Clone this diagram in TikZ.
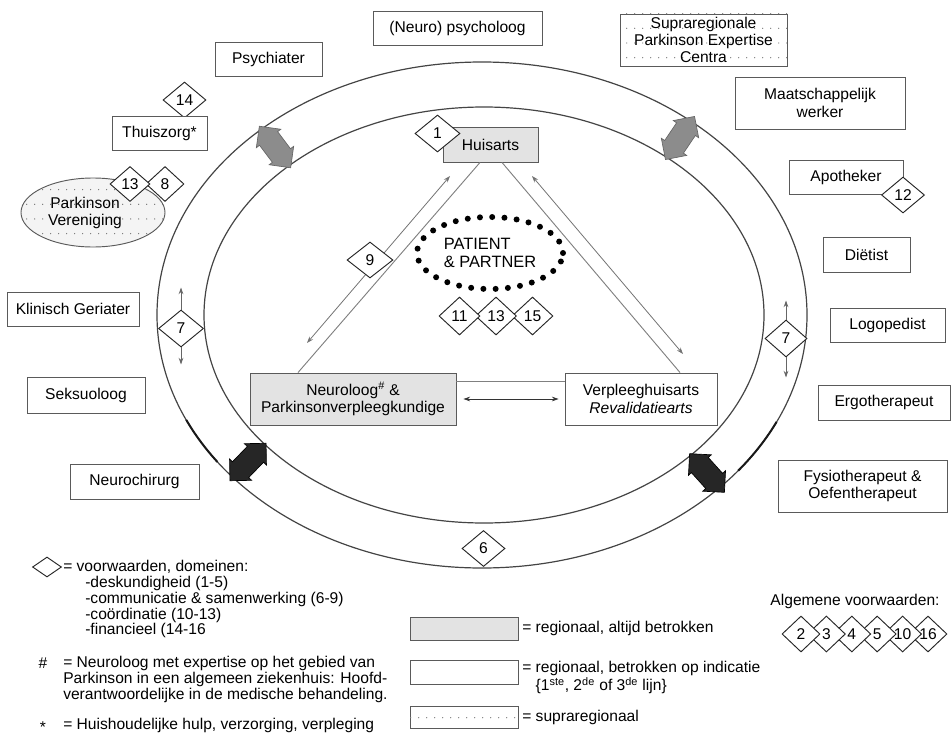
\documentclass[tikz,border=0pt]{standalone}
\usepackage{fontspec}
\setmainfont{Liberation Sans}
\usetikzlibrary{shapes.geometric,shapes.arrows,patterns,arrows.meta,calc}
\pgfdeclarepatternformonly{sparsedots}{\pgfpoint{-1pt}{-1pt}}{\pgfpoint{10pt}{12pt}}{\pgfpoint{6pt}{11pt}}{\pgfpathcircle{\pgfpoint{2pt}{2pt}}{0.5pt}\pgfusepath{fill}}
\definecolor{lnc}{HTML}{444444}
\definecolor{bxc}{HTML}{5A5A5A}
\definecolor{gfill}{HTML}{E3E3E3}
\definecolor{garr}{HTML}{8C8C8C}
\begin{document}
\begin{tikzpicture}[x=0.75pt,y=-0.75pt,
  box/.style={draw=bxc, line width=0.7pt, fill=white, inner sep=0pt, align=center, font=\fontsize{11.7}{13}\selectfont},
  gbox/.style={box, fill=gfill},
  dbox/.style={box, postaction={pattern=sparsedots, pattern color=black!50}},
  dia/.style={diamond, draw=black!85, line width=0.7pt, fill=white, inner sep=0pt, minimum width=43*0.75pt, minimum height=36*0.75pt, font=\fontsize{11.7}{13}\selectfont},
  ell/.style={draw=lnc, line width=0.9pt},
  conn/.style={draw=black!50, line width=0.7pt},
  tarr/.style={draw=black!55, line width=0.6pt, {Stealth[length=5pt,width=3.5pt]}-{Stealth[length=5pt,width=3.5pt]}},
  vart/.style={draw=black!60, line width=0.6pt, -{Stealth[length=5pt,width=3.5pt]}},
  fat/.style={double arrow, inner xsep=0pt, inner ysep=11*0.75pt, minimum height=52*0.75pt, double arrow head extend=4*0.75pt, line width=0.5pt},
  leg/.style={inner sep=0pt, font=\fontsize{11.7}{11.8}\selectfont, align=left},
]
\useasboundingbox (0,0) rectangle (952,735);
% ellipses
\draw[ell] (482,315) ellipse [x radius=325, y radius=253];
\draw[ell] (484,315) ellipse [x radius=280, y radius=208];
\draw[draw=black!90, line width=1.5pt] plot[domain=144.5:155.5, samples=20] ({482+325*cos(\x)},{315+253*sin(\x)});
\draw[draw=black!90, line width=1.5pt] plot[domain=25:38, samples=20] ({482+325*cos(\x)},{315+253*sin(\x)});
% fat arrows
\node[fat, fill=garr, draw=black!60, rotate=127] (ga1) at (275,147) {};
\node[fat, fill=garr, draw=black!60, rotate=56] (ga2) at (680,138) {};
\node[fat, fill=black!85, draw=black, rotate=46] (ba1) at (248,462) {};
\node[fat, fill=black!85, draw=black, rotate=-48] (ba2) at (707,473) {};
% outer boxes
\node[box, minimum width=107*0.75pt, minimum height=34*0.75pt] (psy) at (268.5,59) {Psychiater};
\node[box, minimum width=169*0.75pt, minimum height=34*0.75pt] (npsy) at (457.5,28) {(Neuro) psycholoog};
\node[dbox, minimum width=167*0.75pt, minimum height=52*0.75pt] (supra) at (703.5,40) {Supraregionale\\Parkinson Expertise\\Centra};
\node[box, minimum width=170*0.75pt, minimum height=52*0.75pt] (maat) at (820,103) {Maatschappelijk\\werker};
\node[box, minimum width=114*0.75pt, minimum height=34*0.75pt] (apo) at (846,177) {Apotheker};
\node[box, minimum width=87*0.75pt, minimum height=35*0.75pt] (diet) at (866.5,254.5) {Diëtist};
\node[box, minimum width=115*0.75pt, minimum height=34*0.75pt] (logo) at (887.5,325) {Logopedist};
\node[box, minimum width=132*0.75pt, minimum height=35*0.75pt] (ergo) at (884,402.5) {Ergotherapeut};
\node[box, minimum width=169*0.75pt, minimum height=52*0.75pt] (fysio) at (862.5,486) {Fysiotherapeut \&\\Oefentherapeut};
\node[dia] (d14) at (184.5,100) {14};
\node[box, minimum width=95*0.75pt, minimum height=34*0.75pt] (thuis) at (159.5,133) {Thuiszorg*};
\node[ellipse, draw=bxc, line width=0.7pt, fill=gray!9, postaction={pattern=sparsedots, pattern color=black!55}, minimum width=144*0.75pt, minimum height=69*0.75pt] (pv) at (93,212.5) {};
\node[leg, align=center, font=\fontsize{11.7}{13}\selectfont] (pvt) at (85,213) {Parkinson\\Vereniging};
\node[dia, minimum width=38*0.75pt, minimum height=35*0.75pt] (d8) at (165,184) {8};
\node[dia, minimum width=40*0.75pt, minimum height=35*0.75pt] (d13a) at (130,184) {13};
\node[box, minimum width=132*0.75pt, minimum height=34*0.75pt] (klin) at (73,309) {Klinisch Geriater};
\node[box, minimum width=118*0.75pt, minimum height=36*0.75pt] (seks) at (86,395) {Seksuoloog};
\node[box, minimum width=129*0.75pt, minimum height=35*0.75pt] (nchir) at (134.5,481.5) {Neurochirurg};
\node[dia] (d12) at (903,195) {12};
% diamonds 7 with arrows
\node[dia, minimum width=45*0.75pt, minimum height=37*0.75pt] (d7l) at (181,328.5) {7};
\draw[vart] (d7l.north) -- ++(0,-22);
\draw[vart] (d7l.south) -- ++(0,17);
\node[dia, minimum width=42*0.75pt, minimum height=37*0.75pt] (d7r) at (786,338.5) {7};
\draw[vart] (d7r.north) -- ++(0,-19);
\draw[vart] (d7r.south) -- ++(0,20);
\node[dia] (d6) at (483.5,548.5) {6};
% inner network
\node[gbox, minimum width=95*0.75pt, minimum height=35*0.75pt] (hu) at (490.5,144.5) {Huisarts};
\node[gbox, minimum width=206*0.75pt, minimum height=52*0.75pt] (neuro) at (353,399) {Neuroloog\textsuperscript{\#} \&\\Parkinsonverpleegkundige};
\node[box, minimum width=152*0.75pt, minimum height=52*0.75pt] (verpl) at (641,399) {Verpleeghuisarts\\\textit{Revalidatiearts}};
\draw[conn] ([xshift=-10.5*0.75pt]hu.south) -- ([xshift=-55*0.75pt]neuro.north);
\draw[conn] ([xshift=11.5*0.75pt]hu.south) -- ([xshift=39*0.75pt]verpl.north);
\draw[conn] ([yshift=-9*0.75pt]neuro.north east) -- ([yshift=-9*0.75pt]verpl.north west);
\draw[tarr, draw=black!80] ([xshift=7*0.75pt]neuro.east) -- ([xshift=-6*0.75pt]verpl.west);
\coordinate (a1s) at (307,343);
\coordinate (a1e) at (450,176);
\coordinate (a2s) at (532,176);
\coordinate (a2e) at (683,354);
\draw[tarr] (a1s) -- (a1e);
\draw[tarr] (a2s) -- (a2e);
\node[dia, minimum width=45*0.75pt, minimum height=37*0.75pt] (d1) at (437.5,133.5) {1};
\node[dia, minimum width=46*0.75pt, minimum height=36*0.75pt] (d9) at (370,260) {9};
\node[ellipse, draw=black, line width=4.5pt, dash pattern=on 0pt off 9.2pt, line cap=round, minimum width=146*0.75pt, minimum height=72*0.75pt, inner sep=0pt, align=left, font=\fontsize{12.3}{14}\selectfont] (pat) at (490,253) {PATIENT\\\& PARTNER};
\node[dia, minimum width=41*0.75pt, minimum height=38*0.75pt] (d15) at (532.5,316) {15};
\node[dia, minimum width=41*0.75pt, minimum height=38*0.75pt] (d13) at (496,316) {13};
\node[dia, minimum width=41*0.75pt, minimum height=38*0.75pt] (d11) at (459.5,316) {11};
% legend left
\node[dia, minimum width=29*0.75pt, minimum height=20*0.75pt] (ldia) at (47,567) {};
\node[leg, anchor=west] (l1) at (63,567) {= voorwaarden, domeinen:};
\node[leg, anchor=north west] (l2) at (85,576) {-deskundigheid (1-5)\\-communicatie \& samenwerking (6-9)\\-coördinatie (10-13)\\-financieel (14-16};
\node[leg] (hash) at (43,663) {\#};
\node[leg, anchor=north west] (l3) at (63,656) {= Neuroloog met expertise op het gebied van\\Parkinson in een algemeen ziekenhuis: Hoofd-\\verantwoordelijke in de medische behandeling.};
\node[leg] (star) at (43,727) {*};
\node[leg, anchor=west] (l4) at (63,725) {= Huishoudelijke hulp, verzorging, verpleging};
% legend middle
\node[gbox, minimum width=108*0.75pt, minimum height=23*0.75pt] (lg1) at (464,628.5) {};
\node[leg, anchor=west] (lt1) at (522,628) {= regionaal, altijd betrokken};
\node[box, minimum width=108*0.75pt, minimum height=24*0.75pt] (lg2) at (464,672) {};
\node[leg, anchor=north west] (lt2) at (522,661) {= regionaal, betrokken op indicatie\\\phantom{= }\{1\textsuperscript{ste}, 2\textsuperscript{de} of 3\textsuperscript{de} lijn\}};
\node[dbox, minimum width=108*0.75pt, minimum height=22*0.75pt] (lg3) at (464,717) {};
\node[leg, anchor=west] (lt3) at (522,717) {= supraregionaal};
% legend right
\node[leg] (alg) at (855,601) {Algemene voorwaarden:};
\foreach \n/\cx in {16/928,10/902.6,5/877.2,4/851.8,3/826.4,2/801}{
  \node[dia, minimum width=38*0.75pt, minimum height=36*0.75pt] (g\n) at (\cx,634) {\n};
}
\end{tikzpicture}
\end{document}
